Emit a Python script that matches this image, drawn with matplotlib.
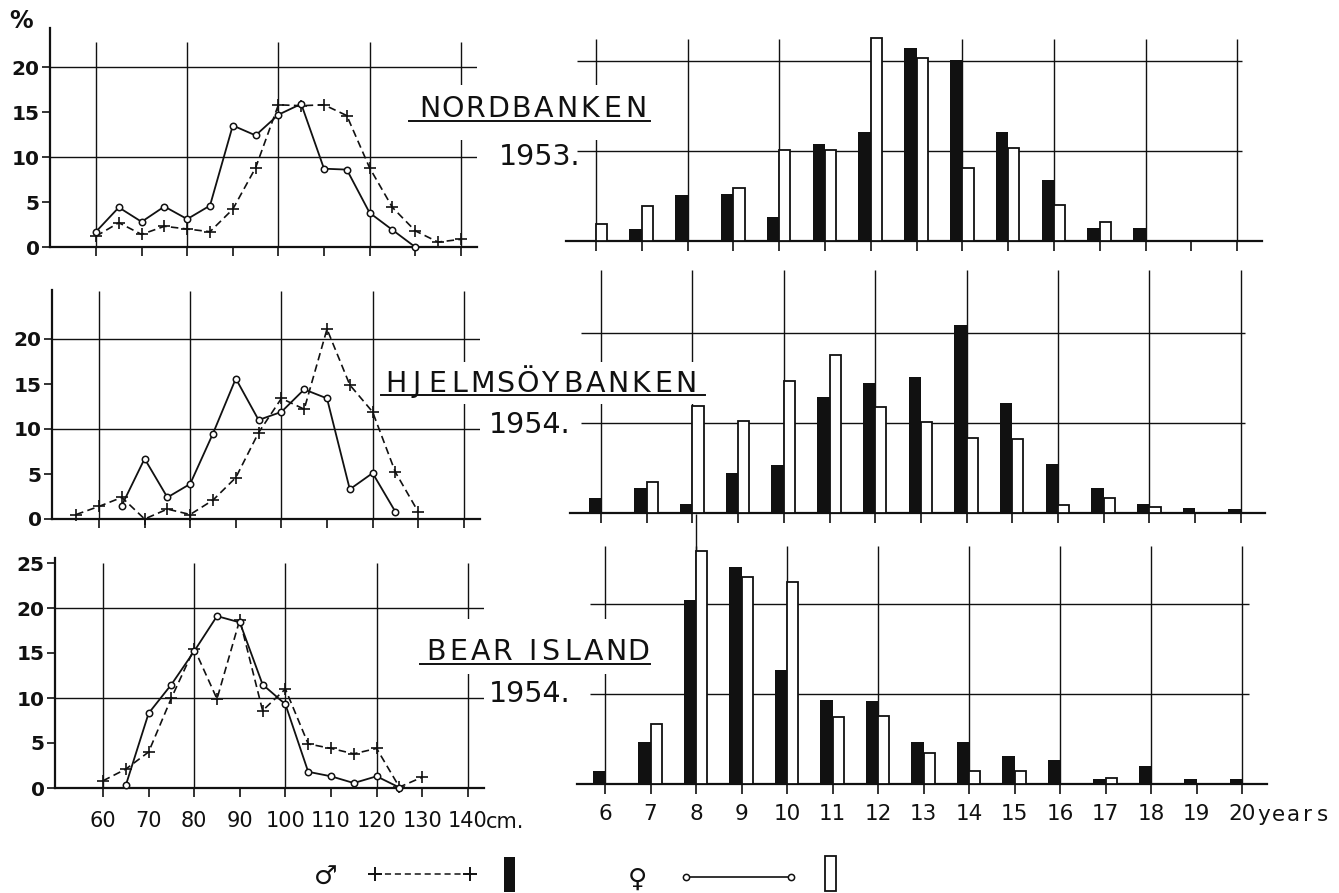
import matplotlib
matplotlib.use("Agg")
import matplotlib.pyplot as plt
from matplotlib.patches import Rectangle
import numpy as np

# ---------------- data ----------------
ages = [6, 7, 8, 9, 10, 11, 12, 13, 14, 15, 16, 17, 18, 19, 20]

# Nordbanken 1953
nb_len_m = [60, 65, 70, 75, 80, 85, 90, 95, 100, 105, 110, 115, 120, 125, 130, 135, 140]
nb_pct_m = [1.2, 2.7, 1.4, 2.3, 2.0, 1.7, 4.2, 8.8, 15.8, 15.7, 15.8, 14.6, 8.8, 4.4, 1.8, 0.55, 0.85]
nb_len_f = [60, 65, 70, 75, 80, 85, 90, 95, 100, 105, 110, 115, 120, 125, 130]
nb_pct_f = [1.7, 4.4, 2.8, 4.5, 3.1, 4.6, 13.5, 12.4, 14.7, 15.9, 8.7, 8.6, 3.8, 1.9, 0.0]
nb_age_m = [0, 1.3, 5.1, 5.2, 2.7, 10.8, 12.1, 21.4, 20.1, 12.1, 6.8, 1.5, 1.4, 0, 0]
nb_age_f = [1.9, 3.9, 0, 5.9, 10.1, 10.1, 22.6, 20.3, 8.1, 10.3, 4.0, 2.1, 0, 0, 0]

# Hjelmsöybanken 1954
hj_len_m = [55, 60, 65, 70, 75, 80, 85, 90, 95, 100, 105, 110, 115, 120, 125, 130]
hj_pct_m = [0.5, 1.4, 2.4, 0.0, 1.1, 0.5, 2.1, 4.6, 9.6, 13.4, 12.2, 21.1, 14.9, 11.9, 5.2, 0.8]
hj_len_f = [65, 70, 75, 80, 85, 90, 95, 100, 105, 110, 115, 120, 125]
hj_pct_f = [1.5, 6.7, 2.4, 3.9, 9.5, 15.6, 11.0, 11.9, 14.4, 13.4, 3.3, 5.1, 0.8]
hj_age_m = [1.65, 2.8, 1.0, 4.4, 5.3, 12.9, 14.4, 15.1, 20.9, 12.2, 5.4, 2.8, 1.0, 0.55, 0.5]
hj_age_f = [0, 3.5, 11.9, 10.2, 14.7, 17.6, 11.8, 10.1, 8.3, 8.2, 0.85, 1.7, 0.65, 0, 0]

# Bear Island 1954
bi_len_m = [60, 65, 70, 75, 80, 85, 90, 95, 100, 105, 110, 115, 120, 125, 130]
bi_pct_m = [0.8, 2.1, 4.0, 10.0, 15.5, 9.9, 18.7, 8.6, 11.0, 4.9, 4.4, 3.8, 4.4, 0.1, 1.2]
bi_len_f = [65, 70, 75, 80, 85, 90, 95, 100, 105, 110, 115, 120, 125]
bi_pct_f = [0.3, 8.3, 11.5, 15.2, 19.1, 18.4, 11.5, 9.3, 1.8, 1.3, 0.55, 1.3, 0.05]
bi_age_m = [1.4, 4.7, 20.5, 24.1, 12.7, 9.3, 9.2, 4.7, 4.7, 3.1, 2.7, 0.6, 2.0, 0.6, 0.6]
bi_age_f = [0, 6.7, 25.9, 23.0, 22.4, 7.5, 7.6, 3.4, 1.4, 1.4, 0, 0.7, 0, 0, 0]

len_ticks = [60, 70, 80, 90, 100, 110, 120, 130, 140]
len_grid = [60, 80, 100, 120, 140]
age_grid = [6, 8, 10, 12, 14, 16, 18, 20]

titles = ["NORDBANKEN", "HJELMSÖYBANKEN", "BEAR ISLAND"]
years = ["1953.", "1954.", "1954."]

# ---------------- layout ----------------
W, H = 1339, 893
DPI = 100
PXU = 9.0          # pixels per percent
INK = "#111111"

fig = plt.figure(figsize=(W / DPI, H / DPI), dpi=DPI)
fig.patch.set_facecolor("white")


def add_ax(x0, x1, yb, ytop_units, xl0, xl1):
    yt = yb - ytop_units * PXU
    ax = fig.add_axes([x0 / W, 1 - yb / H, (x1 - x0) / W, (yb - yt) / H])
    ax.set_xlim(xl0, xl1)
    ax.set_ylim(0, ytop_units)
    ax.patch.set_visible(False)
    return ax


def left_panel(ax, xm, ym, xf, yf, yticks, vtop, show_labels):
    ax.hlines([10, 20], ax.get_xlim()[0], ax.get_xlim()[1], color=INK, lw=1.0, zorder=1)
    ax.vlines(len_grid, 0, vtop, color=INK, lw=1.0, zorder=1)
    ax.plot(xm, ym, color=INK, lw=1.2, ls=(0, (4.5, 2.6)), marker="+", ms=9,
            mew=1.2, clip_on=False, zorder=3)
    ax.plot(xf, yf, color=INK, lw=1.3, marker="o", ms=4.6, mfc="white", mec=INK,
            mew=1.1, clip_on=False, zorder=4)
    for s in ("top", "right"):
        ax.spines[s].set_visible(False)
    for s in ("left", "bottom"):
        ax.spines[s].set_linewidth(1.6)
        ax.spines[s].set_color(INK)
    ax.set_xticks(len_ticks)
    ax.set_yticks(yticks)
    ax.set_yticklabels([str(v) for v in yticks], fontsize=14.5, fontweight="bold", color=INK)
    ax.tick_params(axis="y", direction="out", length=6, width=1.2, color=INK, pad=1.5)
    ax.tick_params(axis="x", direction="out", length=6.5, width=1.2, color=INK, pad=10)
    if show_labels:
        ax.set_xticklabels([str(v) for v in len_ticks], fontsize=15, color=INK)
    else:
        ax.tick_params(axis="x", labelbottom=False)


def right_panel(ax, m, f, vtop, hx0, hx1, show_labels, extra_vline=None):
    ax.hlines([10, 20], hx0, hx1, color=INK, lw=1.0, zorder=1)
    ax.vlines(age_grid, 0, vtop, color=INK, lw=1.0, zorder=1)
    if extra_vline is not None:
        ax.vlines([extra_vline[0]], 0, extra_vline[1], color=INK, lw=1.0, zorder=1,
                  clip_on=False)
    a = np.array(ages, dtype=float)
    m = np.array(m, dtype=float)
    f = np.array(f, dtype=float)
    km = m > 0
    kf = f > 0
    ax.bar(a[km] - 0.27, m[km], width=0.27, align="edge", color=INK, lw=0, zorder=3)
    ax.bar(a[kf], f[kf], width=0.245, align="edge", facecolor="white", edgecolor=INK,
           lw=1.3, zorder=3)
    for s in ("top", "right", "left"):
        ax.spines[s].set_visible(False)
    ax.spines["bottom"].set_linewidth(1.6)
    ax.spines["bottom"].set_color(INK)
    ax.set_yticks([])
    ax.set_xticks(ages)
    ax.tick_params(axis="x", direction="out", length=7.5, width=1.2, color=INK, pad=7)
    if show_labels:
        labs = [str(v) for v in ages]
        ax.set_xticklabels(labs, fontsize=15.5, color=INK)
    else:
        ax.tick_params(axis="x", labelbottom=False)


PXCM = 4.56
PXYR = [45.8, 45.7, 45.5]
left_x60 = [96, 99, 103]
left_axis = [50, 52, 55]
left_base = [247, 519, 788]
left_top = [24.3, 25.4, 25.6]
left_vtop = [22.8, 25.3, 25.0]
right_x6 = [596, 601, 605]
right_span = [(566, 1262), (570, 1265), (577, 1267)]
right_base = [241, 513, 784]
right_top = [25, 28, 30]
right_vtop = [22.5, 27.0, 26.5]
right_h = [(5.58, 20.1), (5.57, 20.1), (5.67, 20.15)]

left_data = [(nb_len_m, nb_pct_m, nb_len_f, nb_pct_f),
             (hj_len_m, hj_pct_m, hj_len_f, hj_pct_f),
             (bi_len_m, bi_pct_m, bi_len_f, bi_pct_f)]
right_data = [(nb_age_m, nb_age_f), (hj_age_m, hj_age_f), (bi_age_m, bi_age_f)]
left_yticks = [[0, 5, 10, 15, 20], [0, 5, 10, 15, 20], [0, 5, 10, 15, 20, 25]]

for r in range(3):
    xl0 = 60 - (left_x60[r] - left_axis[r]) / PXCM
    xl1 = 143.5
    x1px = left_x60[r] + (xl1 - 60) * PXCM
    axl = add_ax(left_axis[r], x1px, left_base[r], left_top[r], xl0, xl1)
    left_panel(axl, *left_data[r], left_yticks[r], left_vtop[r], r == 2)

    s0, s1 = right_span[r]
    rl0 = 6 - (right_x6[r] - s0) / PXYR[r]
    rl1 = 6 + (s1 - right_x6[r]) / PXYR[r]
    axr = add_ax(s0, s1, right_base[r], right_top[r], rl0, rl1)
    right_panel(axr, *right_data[r], right_vtop[r], right_h[r][0], right_h[r][1], r == 2,
                extra_vline=(8, 30) if r == 2 else None)

# ---------------- overlay (pixel coordinates) ----------------
ov = fig.add_axes([0, 0, 1, 1], zorder=10)
ov.set_xlim(0, W)
ov.set_ylim(H, 0)
ov.axis("off")
ov.patch.set_visible(False)

# gaps in the grid around the titles
for (x, y, w, h) in [(405, 85, 250, 55), (378, 362, 319, 42), (415, 619, 240, 55)]:
    ov.add_patch(Rectangle((x, y), w, h, facecolor="white", edgecolor="none", zorder=1))

SLOT = {" ": 0.55, "I": 0.6, "J": 0.8}


def spaced(s, x0, x1, yb, size):
    wts = [SLOT.get(ch, 1.0) for ch in s]
    p = (x1 - x0) / sum(wts)
    x = x0
    for ch, w in zip(s, wts):
        ov.text(x + p * w / 2, yb, ch, ha="center", va="baseline", fontsize=size,
                color=INK, zorder=3)
        x += p * w


title_pos = [(418, 647, 117, 121, 409, 650),
             (385, 697, 392, 395, 381, 705),
             (425, 649, 660, 664, 420, 650)]
year_pos = [(581, 165), (571, 433), (571, 702)]
for r in range(3):
    x0, x1, yb, yu, u0, u1 = title_pos[r]
    spaced(titles[r], x0, x1, yb, 20.5)
    ov.plot([u0, u1], [yu, yu], color=INK, lw=1.4, zorder=3)
    ov.text(year_pos[r][0], year_pos[r][1], years[r], ha="right", va="baseline",
            fontsize=20.5, color=INK, zorder=3)

ov.text(21, 28, "%", ha="center", va="baseline", fontsize=17, fontweight="bold", color=INK)
ov.text(486, 828, "cm.", ha="left", va="baseline", fontsize=15, color=INK)
spaced("years", 1256, 1330, 821, 15.5)

# legend
ov.text(326, 885, "♂", ha="center", va="baseline", fontsize=19, color=INK)
ov.plot([375, 470], [874, 874], color=INK, lw=1.1, ls=(0, (4, 2.5)), marker="+", ms=10,
        mew=1.4)
ov.add_patch(Rectangle((504, 857), 11, 35, facecolor=INK, edgecolor="none"))
ov.text(637, 887, "♀", ha="center", va="baseline", fontsize=19, color=INK)
ov.plot([686, 791], [877, 877], color=INK, lw=1.2, marker="o", ms=4.5, mfc="white",
        mec=INK, mew=1.1)
ov.add_patch(Rectangle((825, 856), 11, 35, facecolor="white", edgecolor=INK, lw=1.3))

fig.savefig("out.png", dpi=DPI, facecolor="white")
